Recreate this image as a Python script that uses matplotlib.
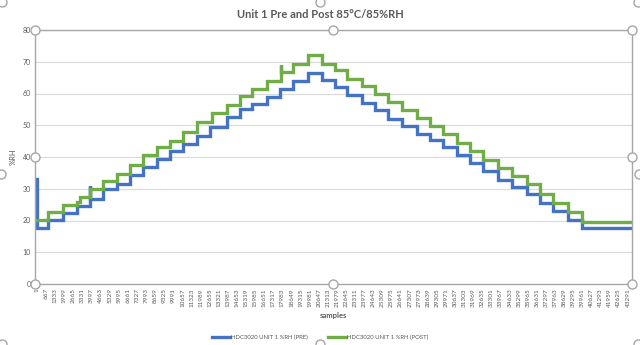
import matplotlib.pyplot as plt
from matplotlib.lines import Line2D

plt.rcParams["font.family"] = ["Lato", "DejaVu Sans"]

TEXT_GRAY = "#595959"
LINE_GRAY = "#a6a6a6"
GRID_GRAY = "#d9d9d9"
PRE_COLOR = "#4472C4"
POST_COLOR = "#70AD47"

N_SAMPLES = 43590

# sample index where each level starts (step changes), %RH level from there on
pre_x = [1, 20, 806, 1905, 2930, 3883, 3910, 4835, 5861, 6813, 7766, 8791,
         9744, 10696, 11722, 12674, 13920, 14872, 15751, 16850, 17802, 18755,
         19853, 20879, 21831, 22711, 23810, 24762, 25714, 26740, 27839, 28791,
         29744, 30769, 31722, 32674, 33773, 34799, 35897, 36850, 37802, 38901,
         39927, N_SAMPLES]
pre_y = [33.0, 17.7, 20.1, 22.5, 24.6, 31.0, 26.8, 29.8, 31.4, 34.3, 36.8, 39.3,
         41.8, 44.0, 46.7, 49.4, 52.5, 55.0, 56.8, 58.9, 61.5, 64.0,
         66.3, 64.2, 62.1, 59.4, 57.0, 54.7, 52.1, 49.7, 47.4, 45.5,
         43.2, 40.6, 38.1, 35.6, 32.9, 30.6, 28.2, 25.6, 23.0, 20.3,
         17.7, 17.7]

post_x = [1, 806, 1905, 2930, 3150, 3883, 4835, 5861, 6813, 7766, 8791, 9744,
          10696, 11722, 12821, 13920, 14872, 15751, 16850, 17876, 17910, 18755,
          19853, 20879, 21831, 22711, 23810, 24762, 25714, 26740, 27839, 28791,
          29744, 30769, 31722, 32674, 33773, 34799, 35897, 36850, 37802, 38901,
          39927, N_SAMPLES]
post_y = [20.1, 22.6, 25.0, 25.9, 27.5, 29.8, 32.5, 34.8, 37.5, 40.6, 43.1, 45.1,
          47.9, 51.0, 53.9, 56.3, 59.1, 61.5, 64.0, 69.0, 66.8, 69.4,
          72.0, 69.4, 67.3, 64.7, 62.3, 59.7, 57.3, 54.7, 52.4, 49.8,
          47.2, 44.4, 41.9, 39.2, 36.6, 34.0, 31.4, 28.3, 25.4, 22.7,
          19.6, 19.6]

tick_labels = [
    "1", "667", "1333", "1999", "2665", "3331", "3997", "4663", "5329", "5995",
    "6661", "7327", "7993", "8659", "9325", "9991", "10657", "11323", "11989",
    "12655", "13321", "13987", "14653", "15319", "15985", "16651", "17317",
    "17983", "18649", "19315", "19981", "20647", "21313", "21979", "22645",
    "23311", "23977", "24643", "25309", "25975", "26641", "27307", "27973",
    "28639", "29305", "29971", "30637", "31303", "31969", "32635", "33301",
    "33967", "34633", "35299", "35965", "36631", "37297", "37963", "38629",
    "39295", "39961", "40627", "41293", "41959", "42625", "43291",
]
tick_pos = [int(t) for t in tick_labels]

fig = plt.figure(figsize=(6.4, 3.45), dpi=100)
ax = fig.add_axes([35 / 640, 1 - 284 / 345, 597 / 640, 254 / 345])

ax.plot(pre_x, pre_y, drawstyle="steps-post", color=PRE_COLOR, lw=2.4,
        solid_joinstyle="miter", label="HDC3020 UNIT 1 %RH (PRE)")
ax.plot(post_x, post_y, drawstyle="steps-post", color=POST_COLOR, lw=2.4,
        solid_joinstyle="miter", label="HDC3020 UNIT 1 %RH (POST)")

ax.set_xlim(-150, N_SAMPLES)
ax.set_ylim(0, 80)
ax.set_yticks(range(0, 81, 10))
ax.tick_params(axis="y", length=0, labelsize=5, labelcolor=TEXT_GRAY, pad=3)
ax.set_xticks(tick_pos)
ax.set_xticklabels(tick_labels, rotation=90, fontsize=4.6, color=TEXT_GRAY)
ax.tick_params(axis="x", length=0, pad=3)
ax.grid(axis="y", color=GRID_GRAY, lw=0.8)
ax.set_axisbelow(True)
for s in ax.spines.values():
    s.set_color(LINE_GRAY)
    s.set_linewidth(1.0)

ax.set_xlabel("samples", fontsize=5.5, color=TEXT_GRAY, fontweight="bold", labelpad=4)
ax.set_ylabel("%RH", fontsize=5.5, color=TEXT_GRAY, labelpad=4)
fig.text(0.5, 1 - 14 / 345, "Unit 1 Pre and Post 85°C/85%RH", ha="center", va="center",
         fontsize=8, fontweight="bold", color=TEXT_GRAY)

fig.legend(loc="center", bbox_to_anchor=(0.5, 1 - 337 / 345), ncol=2, frameon=False,
           fontsize=4.3, handlelength=3, columnspacing=3.5, handletextpad=0.1,
           labelcolor=TEXT_GRAY)

# selection handles around plot area and chart area
handles_px = [(35, 30), (333, 30), (632, 30), (35, 157), (632, 157),
              (35, 284), (333, 284), (632, 284),
              (2, 2), (320, 2), (638, 2), (1, 174), (639, 174),
              (2, 344), (320, 344), (638, 344)]
for hx, hy in handles_px:
    fig.add_artist(Line2D([hx / 640], [1 - hy / 345], transform=fig.transFigure,
                          marker="o", markersize=6.5, mfc="white", mec=LINE_GRAY,
                          mew=1.0, zorder=10))

fig.savefig("out.png", dpi=100)
